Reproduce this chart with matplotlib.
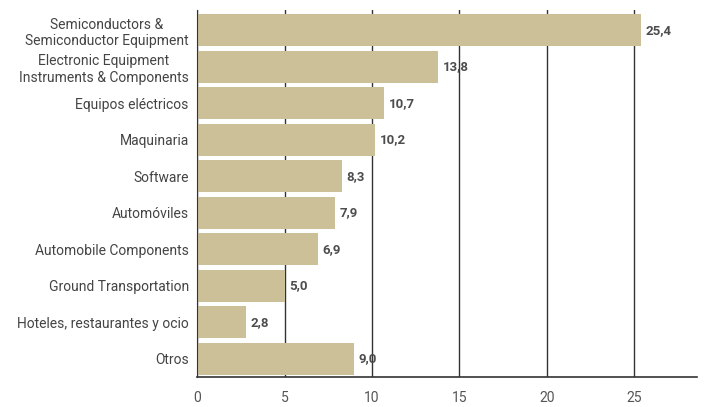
import matplotlib
matplotlib.use("Agg")
import matplotlib.pyplot as plt

# datos
sectores = [
    "Semiconductors &\nSemiconductor Equipment",
    "Electronic Equipment\nInstruments & Components",
    "Equipos eléctricos",
    "Maquinaria",
    "Software",
    "Automóviles",
    "Automobile Components",
    "Ground Transportation",
    "Hoteles, restaurantes y ocio",
    "Otros",
]
valores = [25.4, 13.8, 10.7, 10.2, 8.3, 7.9, 6.9, 5.0, 2.8, 9.0]
ticks_x = [0, 5, 10, 15, 20, 25]

plt.rcParams["font.family"] = ["Roboto", "DejaVu Sans"]

fig = plt.figure(figsize=(7.04, 4.07), dpi=100)
ax = fig.add_axes([0.28, 0.074, 0.71, 0.901])

y = range(len(sectores))
ax.barh(y, valores, height=0.88, color="#cbc098", zorder=2)

for i, v in enumerate(valores):
    ax.text(v + 0.25, i, f"{v:.1f}".replace(".", ","), va="center", ha="left",
            fontsize=9.5, fontweight="bold", color="#4d4d4d")

ax.set_yticks(list(y))
ax.set_yticklabels(sectores, fontsize=10, color="#444444", linespacing=1.25)
for lbl in ax.get_yticklabels():
    lbl.set_multialignment("center")
ax.set_ylim(len(sectores) - 0.5, -0.55)

ax.set_xlim(0, 28.6)
ax.set_xticks(ticks_x)
ax.set_xticklabels([str(t) for t in ticks_x], fontsize=10, color="#555555")
ax.tick_params(axis="y", length=0, pad=6)
ax.tick_params(axis="x", length=0, pad=10)

ax.grid(axis="x", color="#333333", linewidth=1, zorder=1)
ax.set_axisbelow(True)
for s in ["top", "right"]:
    ax.spines[s].set_visible(False)
ax.spines["left"].set_color("#333333")
ax.spines["bottom"].set_color("#333333")
ax.spines["bottom"].set_linewidth(1.2)

fig.savefig("out.png", dpi=100)
